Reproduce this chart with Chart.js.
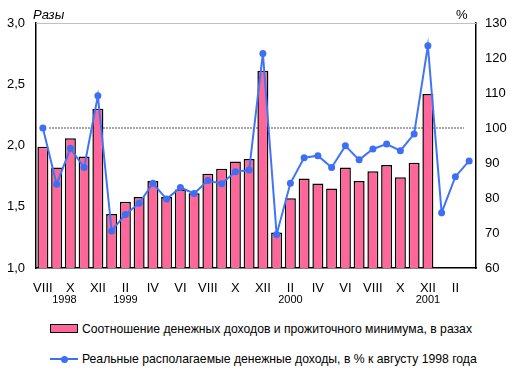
<!DOCTYPE html>
<html>
<head>
<meta charset="utf-8">
<script src="https://cdn.jsdelivr.net/npm/chart.js@4"></script>
<style>
  body { margin: 0; background: #fff; font-family: "Liberation Sans", Arial, sans-serif; }
  #wrap { position: relative; width: 513px; height: 375px; }
  #chart { position: absolute; left: 0; top: 0; }
  .leg { position: absolute; left: 50px; font-size: 12.2px; color: #000; white-space: nowrap; }
  .leg span { display: inline-block; vertical-align: middle; }
  .box { width: 26px; height: 7px; background: #ff6699; border: 1px solid #000; margin-right: 4px; }
  .ln { position: relative; width: 28px; height: 10px; margin-right: 4px; }
  .ln i { position: absolute; left: 0; top: 4px; width: 28px; height: 2px; background: #3d6ef5; }
  .ln b { position: absolute; left: 11px; top: 2px; width: 7px; height: 7px; border-radius: 50%; background: #3d6ef5; }
</style>
</head>
<body>
<div id="wrap">
  <canvas id="chart" width="513" height="310"></canvas>
  <div class="leg" style="top:321px"><span class="box"></span><span>Соотношение денежных доходов и прожиточного минимума, в разах</span></div>
  <div class="leg" style="top:351px"><span class="ln"><i></i><b></b></span><span>Реальные располагаемые денежные доходы, в % к августу 1998 года</span></div>
</div>
<script>
// Aug 1998 .. Mar 2001
const months = ['VIII','IX','X','XI','XII',
  'I','II','III','IV','V','VI','VII','VIII','IX','X','XI','XII',
  'I','II','III','IV','V','VI','VII','VIII','IX','X','XI','XII',
  'I','II','III'];
const years = [[2, '1998'], [6, '1999'], [18, '2000'], [28, '2001']];

const ratio = [1.99, 1.82, 2.06, 1.91, 2.30,
  1.44, 1.54, 1.58, 1.71, 1.58, 1.64, 1.61, 1.77, 1.81, 1.87, 1.89, 2.61,
  1.29, 1.57, 1.73, 1.69, 1.65, 1.82, 1.71, 1.79, 1.84, 1.74, 1.86, 2.42,
  null, null, null];

const realIncome = [100.0, 83.9, 94.2, 88.7, 109.2,
  70.6, 75.3, 78.5, 84.2, 79.7, 83.0, 81.3, 85.0, 84.1, 87.5, 88.0, 121.3,
  69.6, 84.2, 91.5, 92.1, 88.7, 94.9, 90.9, 94.0, 95.4, 93.5, 98.3, 123.5,
  75.8, 86.1, 90.6];

const refLevel = 100;
const font = '"Liberation Sans", Arial, sans-serif';

const extras = {
  id: 'extras',
  beforeDatasetsDraw(chart) {
    const { ctx, chartArea: a, scales } = chart;
    const y = scales.y2.getPixelForValue(refLevel);
    ctx.save();
    ctx.strokeStyle = '#a8a8a8';
    ctx.lineWidth = 2;
    ctx.setLineDash([2, 1]);
    ctx.beginPath();
    ctx.moveTo(a.left + 13, y);
    ctx.lineTo(a.right - 12, y);
    ctx.stroke();
    ctx.restore();
  },
  afterDraw(chart) {
    const { ctx, chartArea: a, scales } = chart;
    ctx.save();
    ctx.fillStyle = '#000';
    ctx.font = 'italic 13px ' + font;
    ctx.textAlign = 'left';
    ctx.textBaseline = 'alphabetic';
    ctx.fillText('Разы', a.left - 3, a.top - 4);
    ctx.font = '13px ' + font;
    ctx.fillText('%', a.right - 20, a.top - 4);
    ctx.font = '11px ' + font;
    ctx.textAlign = 'center';
    ctx.textBaseline = 'middle';
    for (const [i, t] of years) {
      const x = scales.x.getPixelForValue(i) + (i === 2 ? -6 : 0);
      ctx.fillText(t, x, a.bottom + 32);
    }
    // top border
    ctx.strokeStyle = '#c0c0c0';
    ctx.lineWidth = 1;
    ctx.beginPath();
    ctx.moveTo(a.left, a.top + 0.5);
    ctx.lineTo(a.right, a.top + 0.5);
    ctx.stroke();
    ctx.restore();
  }
};

new Chart(document.getElementById('chart'), {
  data: {
    labels: months,
    datasets: [
      {
        type: 'line', label: 'Реальные располагаемые денежные доходы, в % к августу 1998 года',
        data: realIncome, yAxisID: 'y2', order: 0,
        borderColor: '#4275f5', backgroundColor: '#3d6ef5', borderWidth: 2,
        pointRadius: 3.5, pointHoverRadius: 3.5, pointBorderWidth: 0, tension: 0
      },
      {
        type: 'bar', label: 'Соотношение денежных доходов и прожиточного минимума, в разах',
        data: ratio, yAxisID: 'y', order: 1,
        backgroundColor: '#ff6699', borderColor: '#000', borderWidth: { top: 1.5, left: 1.5, right: 1.5, bottom: 0 },
        borderSkipped: false, categoryPercentage: 1, barPercentage: 0.8
      }
    ]
  },
  options: {
    responsive: false, animation: false,
    layout: { padding: { top: 23, left: 0, right: 0, bottom: 0 } },
    plugins: { legend: { display: false }, tooltip: { enabled: false } },
    scales: {
      x: {
        grid: { display: false, drawTicks: false },
        border: { color: '#000', width: 1.5 },
        ticks: {
          autoSkip: false, maxRotation: 0, padding: 13, color: '#000',
          font: { family: font, size: 13 },
          callback: (v, i) => i % 2 === 0 ? months[i] : ''
        },
        afterFit: s => { s.height = 42; }
      },
      y: {
        position: 'left', min: 1, max: 3,
        grid: { display: false, drawTicks: false },
        border: { color: '#000', width: 1.5 },
        ticks: {
          stepSize: 0.5, padding: 11, color: '#000', font: { family: font, size: 13 },
          callback: v => v.toFixed(1).replace('.', ',')
        },
        afterFit: s => { s.width = 36; }
      },
      y2: {
        position: 'right', min: 60, max: 130,
        grid: { display: false, drawTicks: false },
        border: { color: '#000', width: 1.5 },
        ticks: { stepSize: 10, padding: 9, color: '#000', font: { family: font, size: 13 } },
        afterFit: s => { s.width = 37; }
      }
    }
  },
  plugins: [extras]
});
</script>
</body>
</html>
